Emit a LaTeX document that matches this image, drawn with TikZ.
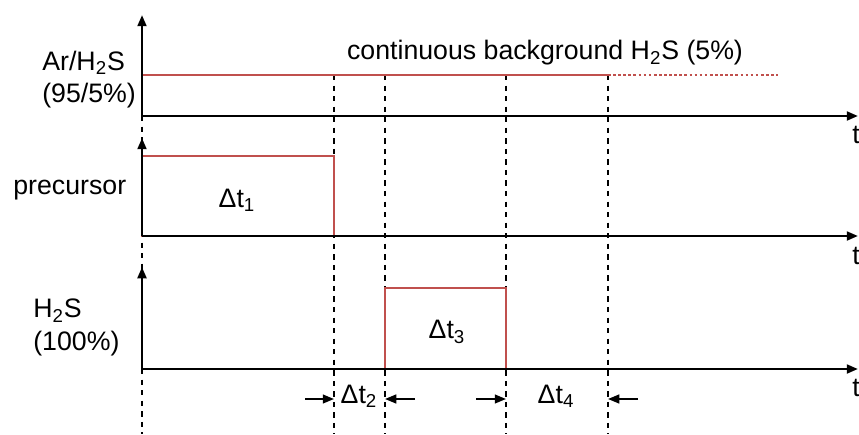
\documentclass[tikz,border=0pt]{standalone}
\usepackage{fontspec}
\setmainfont{Liberation Sans}
\usetikzlibrary{arrows.meta, positioning, calc}
\definecolor{ink}{HTML}{000000}
\definecolor{gasred}{HTML}{C0504D}
\tikzset{
  font=\fontsize{15.2}{18.6}\selectfont,
  >={Triangle[length=6.4pt, width=5pt]},
  %
  axis/.style={draw=ink, line width=1.5pt, ->},
  gasline/.style={draw=gasred, line width=1.2pt},
  gastail/.style={draw=gasred, line width=1.3pt, dash pattern=on 1.5pt off 1.4pt},
  guide/.style={draw=ink, line width=0.6pt, dashed},
  span/.style={draw=ink, line width=1.1pt, ->},
  %
  lbl/.style={text=ink, inner sep=0pt, align=left},
  tlbl/.style={lbl, anchor=west},
}

\begin{document}
\begin{tikzpicture}[x=1cm, y=1cm]
\useasboundingbox (0,0) rectangle (17.18,8.68);

% =========================================================================
% time marks
% =========================================================================
\coordinate (o1) at (2.84,6.36);
\coordinate (o2) at (2.84,3.96);
\coordinate (o3) at (2.84,1.30);
\coordinate (e1) at (17.16,6.36);
\coordinate (e2) at (17.16,3.96);
\coordinate (e3) at (17.16,1.30);
\coordinate (y1) at (2.84,8.38);
\coordinate (y2) at (2.84,5.92);
\coordinate (y3) at (2.84,3.34);

\coordinate (g0) at (2.84,0);
\coordinate (g1) at (6.68,0.70);
\coordinate (g2) at (7.70,0.70);
\coordinate (g3) at (10.12,0.70);
\coordinate (g4) at (12.16,0.70);

% dashed guides
\draw[guide] (o1) -- (g0);
\foreach \g in {g1,g2,g3,g4}
  \draw[guide] (\g |- 0,7.18) -- (\g |- 0,0);

% =========================================================================
% gas traces
% =========================================================================
\coordinate (bg0) at (2.84,7.18);
\coordinate (bg1) at (12.16,7.18);
\coordinate (bg2) at (15.56,7.18);
\draw[gasline] (bg0) -- (bg1);
\draw[gastail] (bg1) -- (bg2);

\draw[gasline] (o2) rectangle (6.68,5.56);
\draw[gasline] (7.70,1.30) rectangle (10.12,2.92);

% =========================================================================
% axes
% =========================================================================
\foreach \i in {1,2,3} {
  \draw[axis] (o\i) -- (e\i);
  \draw[axis] (o\i) -- (y\i);
}
\node[tlbl] (t1) at (17.04,5.98) {t};
\node[tlbl] (t2) at (17.04,3.56) {t};
\node[tlbl] (t3) at (17.04,0.92) {t};

% panel labels
\node[lbl, anchor=west] (ar) at (0.84,7.09) {Ar/H\textsubscript{2}S\\(95/5\%)};
\node[lbl, anchor=west] (pre) at (0.26,4.88) {precursor};
\node[lbl, anchor=west] (hs) at (0.66,2.13) {H\textsubscript{2}S\\(100\%)};
\node[lbl] (bg) at (10.9,7.62) {continuous background H\textsubscript{2}S (5\%)};

% =========================================================================
% intervals
% =========================================================================
\node[lbl] (dt1) at (4.74,4.68) {Δt\textsubscript{1}};
\node[lbl] (dt3) at (8.94,2.04) {Δt\textsubscript{3}};
\node[lbl] (dt2) at (7.18,0.76) {Δt\textsubscript{2}};
\node[lbl] (dt4) at (11.12,0.76) {Δt\textsubscript{4}};

\draw[span] ([xshift=-0.58cm]g1) -- (g1);
\draw[span] ([xshift=0.6cm]g2) -- (g2);
\draw[span] ([xshift=-0.6cm]g3) -- (g3);
\draw[span] ([xshift=0.6cm]g4) -- (g4);

\end{tikzpicture}
\end{document}
